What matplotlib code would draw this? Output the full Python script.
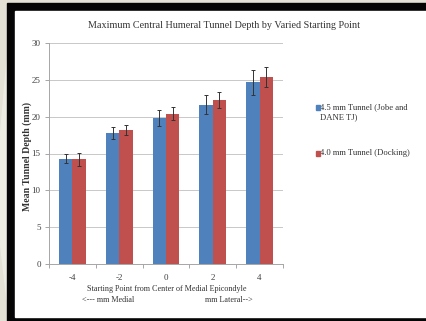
import matplotlib
matplotlib.use("Agg")
import matplotlib.pyplot as plt
from matplotlib.patches import Rectangle, Polygon
import numpy as np

categories = ["-4", "-2", "0", "2", "4"]
series_names = ["4.5 mm Tunnel (Jobe and\nDANE TJ)", "4.0 mm Tunnel (Docking)"]
blue_vals = [14.3, 17.8, 19.8, 21.6, 24.7]
blue_err = [0.6, 0.8, 1.1, 1.3, 1.7]
red_vals = [14.2, 18.2, 20.4, 22.3, 25.4]
red_err = [0.85, 0.7, 0.9, 1.1, 1.4]
yticks = [0, 5, 10, 15, 20, 25, 30]

W, H = 427, 321
fig = plt.figure(figsize=(W / 100, H / 100), dpi=100)
plt.rcParams['font.family'] = ['Liberation Serif', 'DejaVu Serif']

def px(x, y, w, h):
    # top-left pixel coordinates -> figure fraction rect
    return (x / W, 1 - (y + h) / H), w / W, h / H

# background
(x0, y0), w0, h0 = px(0, 0, W, H)
fig.patches.append(Rectangle((x0, y0), w0, h0, transform=fig.transFigure, color="#e4e2d6", zorder=-10))
fig.patches.append(Polygon([(0, 1 - 140 / H), (7 / W, 1 - 60 / H), (7 / W, 1 - 300 / H), (0, 1 - 240 / H)],
                           closed=True, transform=fig.transFigure, color="#eeede4", zorder=-9))
(x0, y0), w0, h0 = px(7, 3, W - 7, H - 3)
fig.patches.append(Rectangle((x0, y0), w0, h0, transform=fig.transFigure, color="#050505", zorder=-8))
(x0, y0), w0, h0 = px(15, 11, W - 15, 306)
fig.patches.append(Rectangle((x0, y0), w0, h0, transform=fig.transFigure, color="white", zorder=-7))

ax_l, ax_r, ax_t, ax_b = 49, 283, 43, 264
ax = fig.add_axes([ax_l / W, 1 - ax_b / H, (ax_r - ax_l) / W, (ax_b - ax_t) / H])
ax.set_facecolor("none")

x = np.arange(len(categories))
bw = 0.285
ek = dict(ecolor="#333333", elinewidth=0.7, capsize=1.6, capthick=0.7)
ax.bar(x - bw / 2, blue_vals, bw, color="#4f81bd", yerr=blue_err, error_kw=ek, zorder=3)
ax.bar(x + bw / 2, red_vals, bw, color="#c0504d", yerr=red_err, error_kw=ek, zorder=3)

ax.set_xlim(-0.5, len(categories) - 0.5)
ax.set_ylim(0, 30)
ax.set_yticks(yticks)
ax.yaxis.grid(True, color="#c8c8c8", linewidth=0.7, zorder=0)
ax.set_axisbelow(True)
for s in ["top", "right"]:
    ax.spines[s].set_visible(False)
for s in ["left", "bottom"]:
    ax.spines[s].set_color("#a6a6a6")
    ax.spines[s].set_linewidth(0.7)

ax.set_xticks(x)
ax.set_xticklabels(categories)
ax.set_xticks(np.arange(-0.5, len(categories)), minor=True)
ax.tick_params(axis="x", which="major", length=0, pad=7, labelsize=6.5, labelcolor="#404040")
ax.tick_params(axis="x", which="minor", length=3, color="#a6a6a6", width=0.7)
ax.tick_params(axis="y", length=3, color="#a6a6a6", width=0.7, labelsize=6.5, labelcolor="#404040", pad=3)

fig.text(27 / W, 1 - 156 / H, "Mean Tunnel Depth (mm)", rotation=90, ha="center", va="center",
         fontsize=7.0, fontweight="bold", color="#333333")

fig.text(224 / W, 1 - 25 / H, "Maximum Central Humeral Tunnel Depth by Varied Starting Point",
         ha="center", va="center", fontsize=7.3, color="#333333")
fig.text(166.7 / W, 1 - 289 / H, "Starting Point from Center of Medial Epicondyle",
         ha="center", va="center", fontsize=5.9, color="#333333")
fig.text(82 / W, 1 - 300 / H, "<--- mm Medial", ha="left", va="center", fontsize=5.9, color="#333333")
fig.text(253 / W, 1 - 300 / H, "mm Lateral-->", ha="right", va="center", fontsize=5.9, color="#333333")

# legend
leg_colors = ["#4f81bd", "#c0504d"]
leg_y = [107, 153]
for name, c, yy in zip(series_names, leg_colors, leg_y):
    (lx, ly), lw, lh = px(315.5, yy - 2.5, 4, 5)
    fig.patches.append(Rectangle((lx, ly), lw, lh, transform=fig.transFigure, color=c, zorder=5))
    fig.text(320.5 / W, 1 - (yy - 4) / H, name, ha="left", va="top", fontsize=6.2,
             color="#333333", linespacing=1.35)

fig.savefig("out.png", dpi=100)
